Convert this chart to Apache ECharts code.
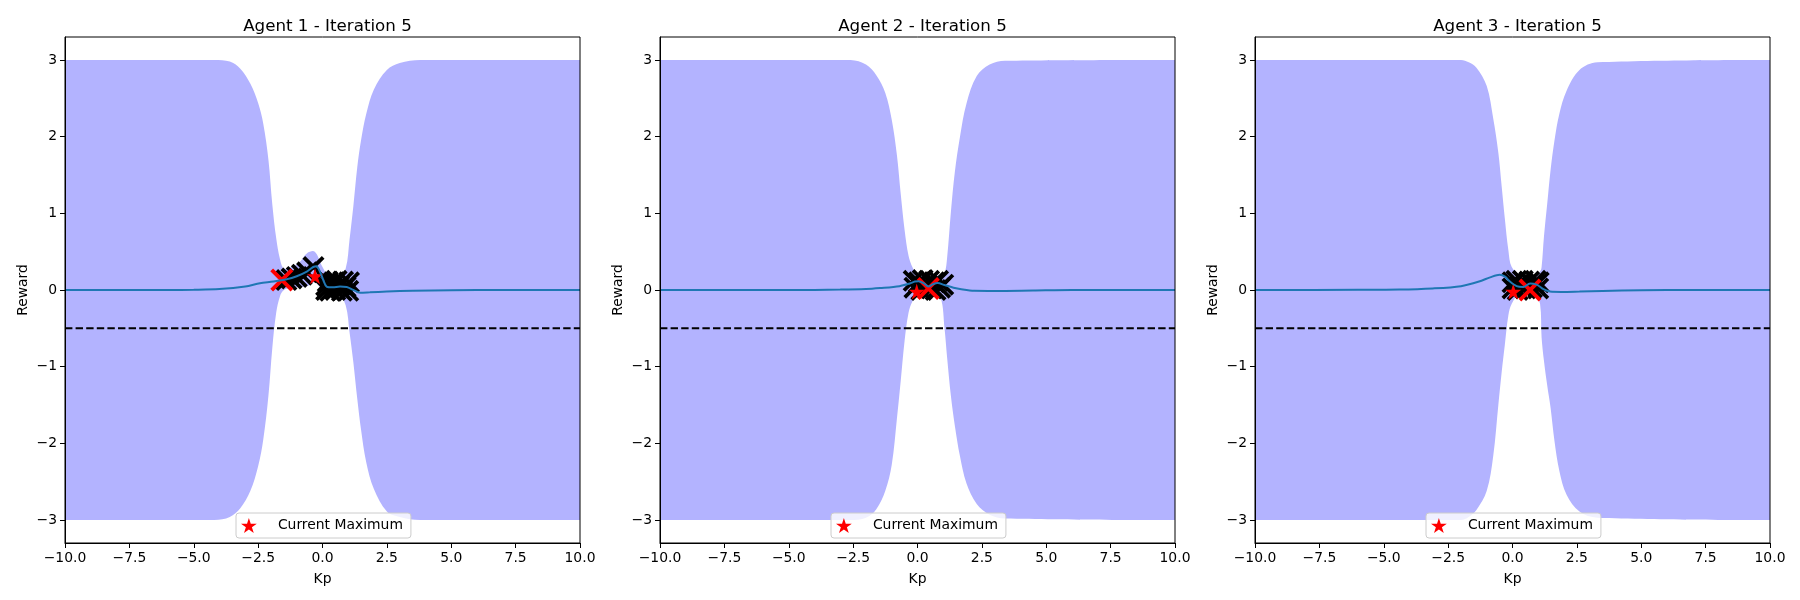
<!DOCTYPE html>
<html>
<head>
<meta charset="utf-8">
<title>Agent GP - Iteration 5</title>
<script src="https://cdn.jsdelivr.net/npm/echarts@6/dist/echarts.min.js"></script>
<style>
  html, body { margin: 0; padding: 0; background: #fff; }
  #chart_box { width: 1800px; height: 600px; }
</style>
</head>
<body>
<div id="chart_box"></div>
<script>
// ---- data ----
var kpRange = [-10, 10];
var rewardRange = [-3.3, 3.3];
var kpTicks = [-10, -7.5, -5, -2.5, 0, 2.5, 5, 7.5, 10];
var rewardTicks = [-3, -2, -1, 0, 1, 2, 3];
var thresholdReward = -0.5;
var titles = ['Agent 1 - Iteration 5', 'Agent 2 - Iteration 5', 'Agent 3 - Iteration 5'];

// agent 1
var bandKp1 = [-10, -4.2, -3.6, -3.2, -2.8, -2.5, -2.3, -2.1, -1.95, -1.8, -1.65, -1.5, -1.2, -0.9, -0.6, -0.3, 0, 0.3, 0.6, 0.9, 1.05, 1.2, 1.35, 1.5, 1.7, 2.0, 2.5, 3.0, 3.8, 10];
var bandUpper1 = [3.0, 3.0, 2.98, 2.89, 2.69, 2.44, 2.17, 1.70, 1.12, 0.68, 0.40, 0.28, 0.30, 0.36, 0.48, 0.50, 0.30, 0.15, 0.12, 0.28, 0.66, 1.10, 1.60, 1.96, 2.30, 2.62, 2.87, 2.96, 3.0, 3.0];
var bandLower1 = [-3.0, -3.0, -2.96, -2.85, -2.62, -2.30, -1.95, -1.38, -0.76, -0.30, -0.08, 0.0, 0.03, 0.04, 0.05, 0.10, 0.0, -0.05, -0.04, -0.20, -0.55, -0.95, -1.42, -1.83, -2.25, -2.60, -2.89, -2.96, -3.0, -3.0];
var meanKp1 = [-10, -6, -5, -4, -3, -2.43, -1.91, -1.39, -1.0, -0.61, -0.36, -0.23, -0.1, 0.03, 0.16, 0.4, 0.68, 0.94, 1.2, 1.46, 1.84, 2.5, 3.5, 5, 7, 10];
var mean1 = [0, 0, 0.003, 0.012, 0.045, 0.088, 0.11, 0.14, 0.18, 0.24, 0.30, 0.31, 0.24, 0.13, 0.045, 0.035, 0.045, 0.04, 0.0, -0.035, -0.03, -0.02, -0.01, -0.003, 0, 0];
var observed1 = [[-1.4, 0.13], [-1.2, 0.15], [-1.0, 0.17], [-0.8, 0.2], [-0.6, 0.23], [-0.35, 0.3],
  [0.14, 0.0], [0.14, 0.06], [0.2, 0.11], [0.3, -0.01], [0.4, 0.08], [0.45, 0.1], [0.5, 0.0], [0.55, 0.12],
  [0.65, 0.05], [0.75, -0.01], [0.8, 0.11], [0.9, 0.04], [1.0, -0.01], [1.03, 0.1]];
var latest1 = [[-1.58, 0.13]];
var best1 = [[-0.29, 0.18]];

// agent 2
var bandKp2 = [-10, -2.6, -2.0, -1.6, -1.25, -1.0, -0.8, -0.65, -0.5, -0.35, -0.2, 0, 0.3, 0.6, 0.9, 1.05, 1.15, 1.3, 1.45, 1.65, 1.9, 2.3, 2.8, 3.4, 10];
var bandUpper2 = [3.0, 3.0, 2.94, 2.80, 2.57, 2.22, 1.76, 1.25, 0.78, 0.45, 0.30, 0.20, 0.18, 0.18, 0.20, 0.22, 0.42, 1.03, 1.54, 2.0, 2.43, 2.79, 2.94, 2.99, 3.0];
var bandLower2 = [-3.0, -3.0, -2.97, -2.86, -2.62, -2.28, -1.68, -1.18, -0.66, -0.30, -0.15, -0.05, -0.03, -0.03, -0.10, -0.50, -0.88, -1.39, -1.77, -2.17, -2.52, -2.79, -2.93, -2.98, -3.0];
var meanKp2 = [-10, -5, -3, -2, -1.45, -0.7, -0.3, -0.1, 0.05, 0.25, 0.42, 0.6, 0.78, 1.05, 1.4, 1.7, 2.2, 3.0, 4.5, 6, 10];
var mean2 = [0, 0, 0.005, 0.012, 0.025, 0.05, 0.085, 0.11, 0.115, 0.085, 0.045, 0.075, 0.09, 0.065, 0.03, 0.01, -0.01, -0.012, -0.006, 0, 0];
var observed2 = [[-0.15, 0.12], [-0.12, 0.03], [0.05, 0.1], [0.15, 0.0], [0.2, 0.13], [0.3, 0.05], [0.45, 0.12],
  [0.55, 0.02], [0.65, 0.1], [0.7, 0.0], [0.8, 0.12], [0.88, 0.03], [1.0, 0.07]];
var latest2 = [[0.42, 0.02]];
var best2 = [[-0.03, -0.02]];

// agent 3
var bandKp3 = [-10, -2.0, -1.7, -1.4, -1.0, -0.75, -0.55, -0.42, -0.3, -0.16, -0.03, 0.3, 0.6, 0.9, 1.07, 1.13, 1.22, 1.35, 1.48, 1.63, 1.82, 2.1, 2.6, 3.3, 10];
var bandUpper3 = [3.0, 3.0, 2.97, 2.90, 2.66, 2.24, 1.79, 1.35, 0.94, 0.52, 0.30, 0.20, 0.18, 0.20, 0.24, 0.30, 0.69, 1.13, 1.57, 1.95, 2.30, 2.60, 2.87, 2.97, 3.0];
var bandLower3 = [-3.0, -3.0, -2.96, -2.87, -2.62, -2.17, -1.50, -1.07, -0.72, -0.33, -0.18, -0.03, -0.03, -0.08, -0.18, -0.62, -0.92, -1.25, -1.54, -1.97, -2.36, -2.67, -2.89, -2.97, -3.0];
var meanKp3 = [-10, -6, -4.4, -3.1, -2.0, -1.3, -0.87, -0.5, -0.29, -0.1, 0.16, 0.42, 0.68, 0.94, 1.2, 1.46, 1.9, 2.6, 3.5, 5, 7, 10];
var mean3 = [0, 0.002, 0.005, 0.02, 0.05, 0.11, 0.165, 0.2, 0.175, 0.11, 0.05, 0.04, 0.085, 0.07, 0.01, -0.02, -0.025, -0.02, -0.012, -0.004, 0, 0];
var observed3 = [[0.0, 0.1], [0.0, 0.02], [0.15, 0.12], [0.2, 0.0], [0.3, 0.06], [0.4, 0.12], [0.5, 0.02],
  [0.65, 0.11], [0.75, 0.03], [0.85, 0.07], [0.9, 0.12], [1.0, 0.02], [1.02, 0.1]];
var latest3 = [[0.68, 0.0]];
var best3 = [[0.03, -0.02]];

var agents = [
  { band: [bandKp1, bandUpper1, bandLower1], meanKp: meanKp1, mean: mean1, obs: observed1, latest: latest1, best: best1 },
  { band: [bandKp2, bandUpper2, bandLower2], meanKp: meanKp2, mean: mean2, obs: observed2, latest: latest2, best: best2 },
  { band: [bandKp3, bandUpper3, bandLower3], meanKp: meanKp3, mean: mean3, obs: observed3, latest: latest3, best: best3 }
];

// ---- layout / style ----
var FONT = 'DejaVu Sans';
var gridLefts = [65, 660, 1255];
var gridTop = 37, gridW = 515, gridH = 506;
var starPath = 'path://M0,-1 L0.2245,-0.309 L0.951,-0.309 L0.363,0.118 L0.588,0.809 L0,0.382 L-0.588,0.809 L-0.363,0.118 L-0.951,-0.309 L-0.2245,-0.309 Z';
var crossPath = 'path://M0,0.12 L0.12,0 L0.5,0.38 L0.88,0 L1,0.12 L0.62,0.5 L1,0.88 L0.88,1 L0.5,0.62 L0.12,1 L0,0.88 L0.38,0.5 Z';

function fmtNum(v, digits) {
  var s = Math.abs(v).toFixed(digits);
  return (v < 0 ? '\u2212' : '') + s;
}

// filled confidence band: upper edge left->right, lower edge right->left
function bandRenderer(kp, upper, lower) {
  return function (params, api) {
    var pts = [];
    for (var i = 0; i < kp.length; i++) pts.push(api.coord([kp[i], upper[i]]));
    for (var j = kp.length - 1; j >= 0; j--) pts.push(api.coord([kp[j], lower[j]]));
    var cMin = api.coord([kp[0], Math.max.apply(null, upper)]);
    var cMax = api.coord([kp[kp.length - 1], Math.min.apply(null, lower)]);
    return { type: 'polygon',
      shape: { points: pts, smooth: 0.35, smoothConstraint: [cMin, cMax] },
      style: { fill: '#b3b3ff' } };
  };
}

var myChart = echarts.init(document.getElementById('chart_box'));

var grids = [], xAxes = [], yAxes = [], titleList = [], legends = [], series = [];

agents.forEach(function (ag, i) {
  var left = gridLefts[i];
  grids.push({ left: left, top: gridTop, width: gridW, height: gridH, show: true, z: 10,
    borderColor: '#000', borderWidth: 1, backgroundColor: 'transparent' });

  titleList.push({ text: titles[i], left: left + gridW / 2, top: 13, textAlign: 'center',
    textStyle: { fontFamily: FONT, fontSize: 16.7, fontWeight: 'normal', color: '#000' } });

  xAxes.push({ type: 'value', gridIndex: i, min: kpRange[0], max: kpRange[1], interval: 2.5, z: 10,
    name: 'Kp', nameLocation: 'middle', nameGap: 29,
    nameTextStyle: { fontFamily: FONT, fontSize: 13.9, color: '#000' },
    axisLine: { onZero: false, lineStyle: { color: '#000', width: 1 } },
    axisTick: { length: 5, lineStyle: { color: '#000', width: 1 } },
    axisLabel: { fontFamily: FONT, fontSize: 13.9, color: '#000', margin: 8,
      customValues: kpTicks, formatter: function (v) { return fmtNum(v, 1); } },
    splitLine: { show: false } });

  yAxes.push({ type: 'value', gridIndex: i, min: rewardRange[0], max: rewardRange[1], z: 10,
    name: 'Reward', nameLocation: 'middle', nameGap: 35, nameRotate: 90,
    nameTextStyle: { fontFamily: FONT, fontSize: 13.9, color: '#000' },
    axisLine: { onZero: false, lineStyle: { color: '#000', width: 1 } },
    axisTick: { length: 5, lineStyle: { color: '#000', width: 1 }, customValues: rewardTicks },
    axisLabel: { fontFamily: FONT, fontSize: 13.9, color: '#000', margin: 8,
      customValues: rewardTicks, formatter: function (v) { return fmtNum(v, 0); } },
    splitLine: { show: false } });

  legends.push({ data: ['Current Maximum'], left: left + 171, top: 513, orient: 'horizontal',
    selectedMode: false, icon: starPath, itemWidth: 28, itemHeight: 15, padding: [5, 8, 5, 5],
    backgroundColor: 'rgba(255,255,255,0.8)', borderColor: '#cccccc', borderWidth: 1, borderRadius: 3,
    textStyle: { fontFamily: FONT, fontSize: 13.9, color: '#000', padding: [0, 0, 0, 10] } });

  series.push({ type: 'custom', xAxisIndex: i, yAxisIndex: i, silent: true, z: 1,
    renderItem: bandRenderer(ag.band[0], ag.band[1], ag.band[2]),
    data: [[ag.band[0][0], ag.band[1][0]]] });

  series.push({ type: 'line', xAxisIndex: i, yAxisIndex: i, symbol: 'none', silent: true, z: 2,
    data: [[kpRange[0], thresholdReward], [kpRange[1], thresholdReward]],
    lineStyle: { color: '#000', width: 2, type: [7.4, 3.2] } });

  series.push({ type: 'scatter', xAxisIndex: i, yAxisIndex: i, symbol: crossPath, symbolSize: 22, z: 3,
    data: ag.obs, itemStyle: { color: '#000', opacity: 1 } });

  series.push({ type: 'scatter', xAxisIndex: i, yAxisIndex: i, symbol: crossPath, symbolSize: 23, z: 3,
    data: ag.latest, itemStyle: { color: '#ff0000', opacity: 1 } });

  series.push({ type: 'scatter', name: 'Current Maximum', xAxisIndex: i, yAxisIndex: i,
    symbol: starPath, symbolSize: 16, z: 3, data: ag.best, itemStyle: { color: '#ff0000', opacity: 1 } });

  var meanData = ag.meanKp.map(function (k, j) { return [k, ag.mean[j]]; });
  series.push({ type: 'line', xAxisIndex: i, yAxisIndex: i, symbol: 'none', smooth: 0.3, z: 4,
    data: meanData, lineStyle: { color: '#1f77b4', width: 2 } });
});

myChart.setOption({
  animation: false,
  backgroundColor: '#fff',
  title: titleList,
  grid: grids,
  xAxis: xAxes,
  yAxis: yAxes,
  legend: legends,
  series: series
});
</script>
</body>
</html>
